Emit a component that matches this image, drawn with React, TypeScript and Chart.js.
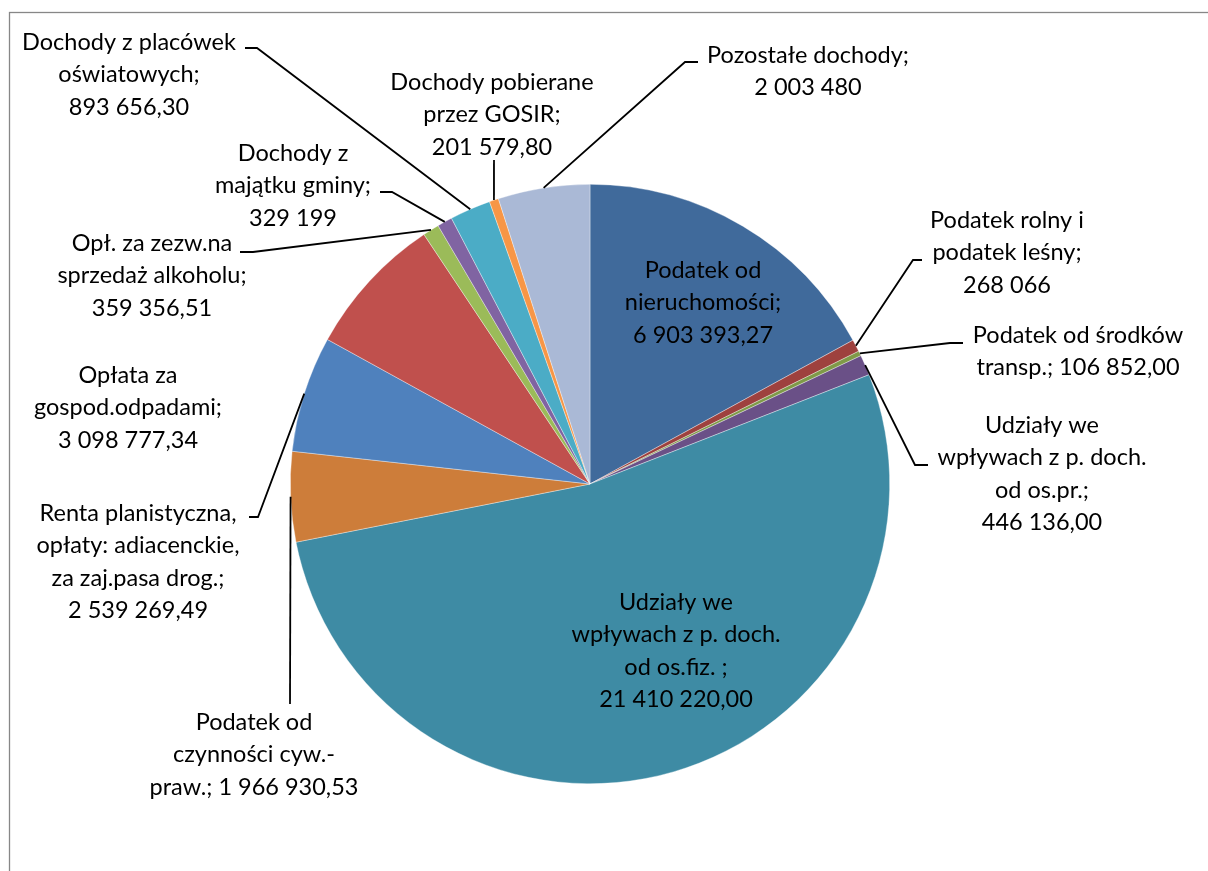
import React, { useEffect, useRef } from "react";
import { Chart, registerables } from "chart.js";

Chart.register(...registerables);

// ---- data ----
const categories: string[][] = [
  ["Podatek od", "nieruchomości;", "6 903 393,27"],
  ["Podatek rolny i", "podatek leśny;", "268 066"],
  ["Podatek od środków", "transp.; 106 852,00"],
  ["Udziały we", "wpływach z p. doch.", "od os.pr.;", "446 136,00"],
  ["Udziały we", "wpływach z p. doch.", "od os.fiz. ;", "21 410 220,00"],
  ["Podatek od", "czynności cyw.-", "praw.; 1 966 930,53"],
  ["Renta planistyczna,", "opłaty: adiacenckie,", "za zaj.pasa drog.;", "2 539 269,49"],
  ["Opłata za", "gospod.odpadami;", "3 098 777,34"],
  ["Opł. za zezw.na", "sprzedaż alkoholu;", "359 356,51"],
  ["Dochody z", "majątku gminy;", "329 199"],
  ["Dochody z placówek", "oświatowych;", "893 656,30"],
  ["Dochody pobierane", "przez GOSIR;", "201 579,80"],
  ["Pozostałe dochody;", "2 003 480"],
];

const values: number[] = [
  6903393.27, 268066, 106852.0, 446136.0, 21410220.0, 1966930.53, 2539269.49,
  3098777.34, 359356.51, 329199, 893656.3, 201579.8, 2003480,
];

// ---- styles ----
const colors: string[] = [
  "#406A9B", "#9E413E", "#7F9A48", "#6A5087", "#3E8BA4", "#CD7D3A", "#4F81BD",
  "#C0504D", "#9BBB59", "#8064A2", "#4BACC6", "#F79646", "#AAB9D6",
];

// label first-line centre, relative to pie centre
const labelOffsets: [number, number][] = [
  [113, -214], [417, -264], [488, -149], [452, -59], [86, 118], [-336, 238],
  [-452, 29], [-462, -109], [-438, -241], [-297, -331], [-461, -442], [-98, -402],
  [218, -429],
];

// leader polyline points (relative to pie centre), ending at slice edge
const leaderPoints: ([number, number][] | null)[] = [
  null,
  [[332, -224], [323, -224]],
  [[373, -141], [360, -141]],
  [[338, -19], [325, -19]],
  null,
  [[-300, 220]],
  [[-341, 33], [-332, 33]],
  null,
  [[-350, -232], [-337, -232]],
  [[-210, -292], [-198, -292]],
  [[-345, -436], [-333, -436]],
  [[-96, -324]],
  [[108, -422], [95, -422]],
];

const LINE_H = 32.5;
const FONT = '23.5px Lato, "Open Sans", sans-serif';

const labelPlugin = {
  id: "labelPlugin",
  beforeDraw(chart: any) {
    const ctx = chart.ctx;
    ctx.save();
    ctx.fillStyle = "#ffffff";
    ctx.fillRect(0, 0, chart.width, chart.height);
    ctx.strokeStyle = "#878787";
    ctx.lineWidth = 1.3;
    ctx.strokeRect(9.5, 12.5, 1400, 1000);
    ctx.restore();
  },
  afterDraw(chart: any) {
    const ctx = chart.ctx;
    const meta = chart.getDatasetMeta(0);
    ctx.save();
    meta.data.forEach((arc: any, i: number) => {
      const cx = arc.x;
      const cy = arc.y;
      const pts = leaderPoints[i];
      if (pts) {
        const mid = (arc.startAngle + arc.endAngle) / 2;
        const ex = cx + arc.outerRadius * Math.cos(mid);
        const ey = cy + arc.outerRadius * Math.sin(mid);
        ctx.beginPath();
        ctx.strokeStyle = "#000000";
        ctx.lineWidth = 1.8;
        pts.forEach((p, k) => {
          if (k === 0) ctx.moveTo(cx + p[0], cy + p[1]);
          else ctx.lineTo(cx + p[0], cy + p[1]);
        });
        ctx.lineTo(ex, ey);
        ctx.stroke();
      }
      const [dx, dy] = labelOffsets[i];
      ctx.font = FONT;
      ctx.fillStyle = "#000000";
      ctx.textAlign = "center";
      ctx.textBaseline = "middle";
      categories[i].forEach((line, k) => {
        ctx.fillText(line, cx + dx, cy + dy + k * LINE_H);
      });
    });
    ctx.restore();
  },
};

export default function App() {
  const ref = useRef<HTMLCanvasElement | null>(null);
  useEffect(() => {
    if (!ref.current) return;
    const chart = new Chart(ref.current, {
      type: "pie",
      data: {
        labels: categories.map((c) => c.join(" ")),
        datasets: [
          {
            data: values,
            backgroundColor: colors,
            borderColor: "rgba(255,255,255,0.6)",
            borderWidth: 0.6,
          },
        ],
      },
      options: {
        responsive: false,
        animation: false,
        layout: { padding: { left: 290, right: 318, top: 184, bottom: 87 } },
        plugins: {
          legend: { display: false },
          tooltip: { enabled: false },
        },
      },
      plugins: [labelPlugin],
    });
    return () => chart.destroy();
  }, []);
  return (
    <div style={{ position: "fixed", left: 0, top: 0, width: 1208, height: 871, background: "#fff" }}>
      <canvas ref={ref} width={1208} height={871} style={{ display: "block" }} />
    </div>
  );
}
